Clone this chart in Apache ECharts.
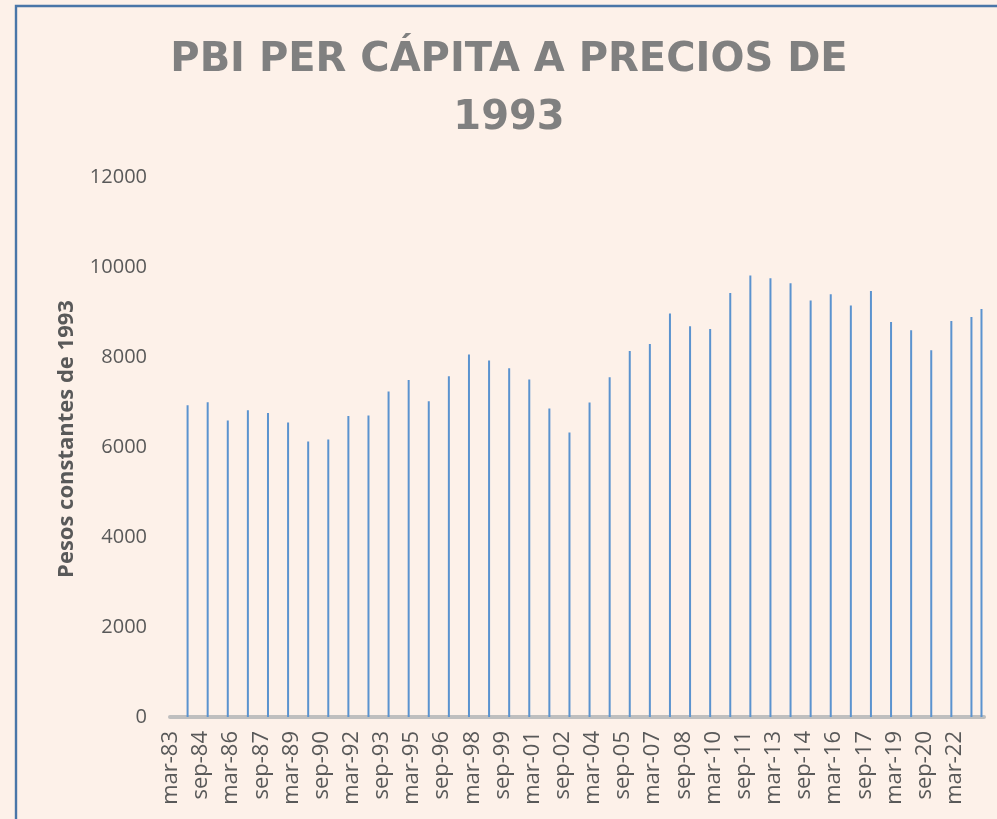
<!DOCTYPE html>
<html>
<head>
<meta charset="utf-8">
<script src="https://cdn.jsdelivr.net/npm/echarts@6/dist/echarts.min.js"></script>
<style>
  html, body { margin: 0; padding: 0; background: #FDF1E9; }
  #chart { width: 997px; height: 819px; }
</style>
</head>
<body>
<div id="chart"></div>
<script>
// ---- Data ----
var chartTitle = 'PBI PER CÁPITA A PRECIOS DE\n1993';
var yAxisName = 'Pesos constantes de 1993';
var monthNames = ['ene','feb','mar','abr','may','jun','jul','ago','sep','oct','nov','dic'];
var axisStartYear = 1983, axisStartMonth = 3;  // first month on the axis: mar-83
var axisMonthCount = 486;                      // months shown on the date axis
var labelEveryMonths = 18;                     // mar-83, sep-84, mar-86, ...

// observation dates (year-month) and values (pesos constantes de 1993)
var obsDates = [
  '1984-01','1985-01','1986-01','1987-01','1988-01','1989-01','1990-01','1991-01',
  '1992-01','1993-01','1994-01','1995-01','1996-01','1997-01','1998-01','1999-01',
  '2000-01','2001-01','2002-01','2003-01','2004-01','2005-01','2006-01','2007-01',
  '2008-01','2009-01','2010-01','2011-01','2012-01','2013-01','2014-01','2015-01',
  '2016-01','2017-01','2018-01','2019-01','2020-01','2021-01','2022-01','2023-01',
  '2023-07'
];
var pbiValues = [
  6927, 6993, 6587, 6816, 6756, 6542, 6120, 6164,
  6689, 6698, 7231, 7489, 7016, 7571, 8053, 7920,
  7749, 7498, 6853, 6320, 6987, 7549, 8133, 8289,
  8964, 8682, 8622, 9422, 9809, 9749, 9638, 9253,
  9393, 9142, 9467, 8778, 8593, 8149, 8800, 8889,
  9067
];
var yTicks = [0, 2000, 4000, 6000, 8000, 10000, 12000];

// ---- Build monthly category axis ----
var categories = [];
for (var i = 0; i < axisMonthCount; i++) {
  var m0 = (axisStartMonth - 1) + i;
  var yr = axisStartYear + Math.floor(m0 / 12);
  var mo = m0 % 12;
  categories.push(monthNames[mo] + '-' + String(yr).slice(2));
}
var seriesData = categories.map(function () { return '-'; });
obsDates.forEach(function (d, k) {
  var parts = d.split('-');
  var idx = (parseInt(parts[0], 10) - axisStartYear) * 12 + (parseInt(parts[1], 10) - axisStartMonth);
  if (idx >= 0 && idx < axisMonthCount) seriesData[idx] = pbiValues[k];
});

var FONT = 'Open Sans';
var chart = echarts.init(document.getElementById('chart'), null, { renderer: 'canvas' });
chart.setOption({
  backgroundColor: '#FDF1E9',
  animation: false,
  title: {
    text: chartTitle,
    left: 509,
    textAlign: 'center',
    top: 32,
    padding: 0,
    textStyle: {
      fontFamily: 'DejaVu Sans',
      fontSize: 40,
      fontWeight: 'bold',
      color: '#808080',
      lineHeight: 58
    }
  },
  graphic: [{
    type: 'rect',
    silent: true,
    z: 100,
    shape: { x: 16, y: 6, width: 1200, height: 1200 },
    style: { fill: 'none', stroke: '#4A76A8', lineWidth: 2.4 }
  }],
  grid: { left: 170, right: 13, top: 177, bottom: 102 },
  xAxis: {
    type: 'category',
    data: categories,
    boundaryGap: true,
    axisLine: { show: true, lineStyle: { color: '#BFBFBF', width: 4 } },
    axisTick: { show: false },
    splitLine: { show: false },
    axisLabel: {
      interval: labelEveryMonths - 1,
      rotate: 90,
      margin: 14,
      fontFamily: FONT,
      fontSize: 22,
      fontWeight: 500,
      color: '#595959'
    }
  },
  yAxis: {
    type: 'value',
    min: yTicks[0],
    max: yTicks[yTicks.length - 1],
    interval: 2000,
    axisLine: { show: false },
    axisTick: { show: false },
    splitLine: { show: false },
    axisLabel: {
      margin: 23, fontFamily: FONT, fontSize: 20, color: '#595959',
      formatter: function (v) { return String(v); }
    },
    name: yAxisName,
    nameLocation: 'middle',
    nameRotate: 90,
    nameGap: 92,
    nameTextStyle: {
      fontFamily: FONT, fontSize: 22, fontWeight: 'bold', color: '#595959',
      padding: [0, 0, 0, 16]
    }
  },
  series: [{
    type: 'bar',
    data: seriesData,
    barWidth: 2,
    itemStyle: { color: '#5B93CF' },
    z: 1
  }]
});
</script>
</body>
</html>
